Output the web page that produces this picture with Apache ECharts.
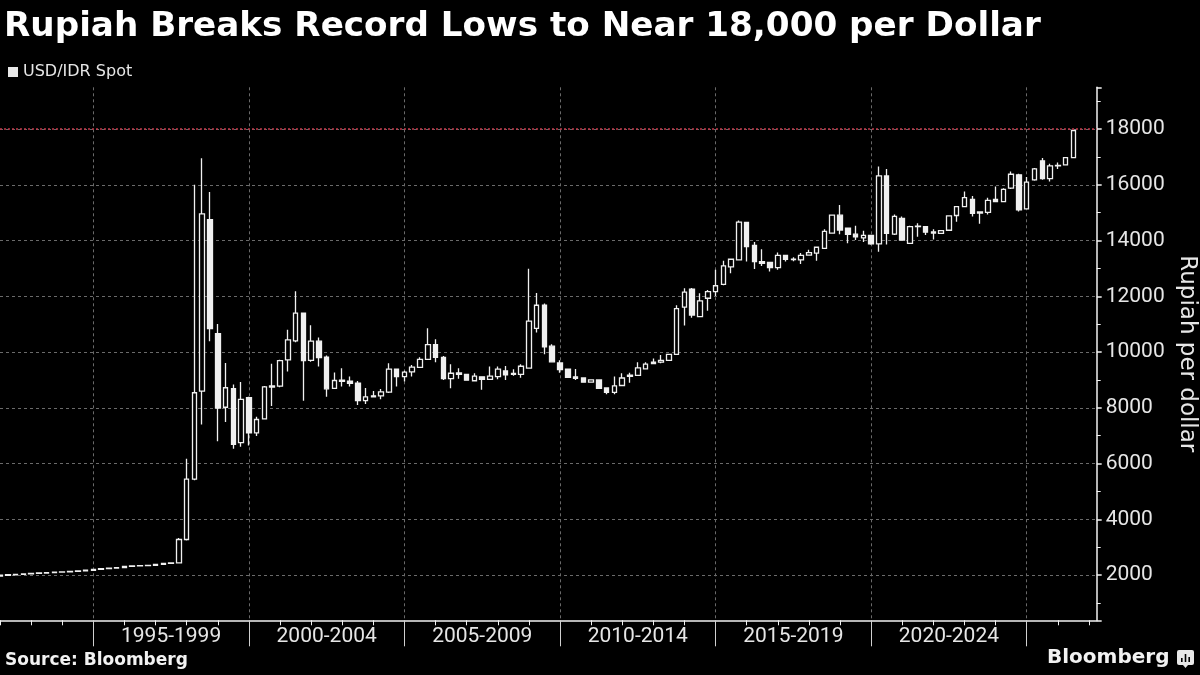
<!DOCTYPE html>
<html>
<head>
<meta charset="utf-8">
<script src="https://cdn.jsdelivr.net/npm/echarts@6/dist/echarts.min.js"></script>
<style>
  html, body { margin: 0; padding: 0; background: #000; }
  #chart { width: 1200px; height: 675px; }
</style>
</head>
<body>
<div id="chart"></div>
<script>
// ---- Data (quarterly USD/IDR spot, quarter-end positions) ----
const firstQuarter = { year: 1991, q: 4 };
const lastQuarter = { year: 2027, q: 1 };
const quarters = [];
for (let y = firstQuarter.year, q = firstQuarter.q; y < lastQuarter.year || (y === lastQuarter.year && q <= lastQuarter.q);) {
  quarters.push(y + 'Q' + q);
  q++; if (q > 4) { q = 1; y++; }
}

const openVals = [
  1965, 1992, 2010, 2025, 2040, 2062, 2072, 2089, 2102, 2110, 2134, 2152, 2170,
  2200, 2231, 2244, 2268, 2308, 2330, 2339, 2343, 2383, 2419,
  2432, 3275, 5440, 8600, 14750, 10660, 8020, 8690, 6750, 8360,
  7100, 7600, 8740, 8780, 9720, 10400, 11400, 9700, 10390, 9820, 8700, 8990,
  8960, 8880, 8260, 8430, 8430, 8560, 9390, 9120, 9290, 9450, 9740, 10270,
  9810, 9050, 9250, 9200, 8970, 9110, 9020, 9120, 9320, 9200, 9200, 9420,
  10850, 11680, 10210, 9610, 9390, 9110, 9070, 8920, 9000, 8710, 8550, 8800,
  9130, 9160, 9400, 9590, 9640, 9700, 9920, 11610, 12260, 11270, 11930, 12170,
  12430, 13060, 13310, 14650, 13830, 13240, 13220, 13030, 13470, 13320, 13310, 13480,
  13550, 13720, 14270, 14910, 14450, 14230, 14100, 14190, 13880, 16320, 14230, 14800,
  13900, 14520, 14500, 14310, 14260, 14370, 14900, 15220, 15480, 14990, 15010, 15480,
  15400, 15880, 16360, 15140, 16180, 16860, 16220, 16680, 16720, 16980
];
const closeVals = [
  1992, 2010, 2025, 2040, 2062, 2072, 2089, 2102, 2110, 2134, 2152, 2170, 2200,
  2231, 2244, 2268, 2308, 2330, 2339, 2343, 2383, 2419, 2432,
  3275, 5440, 8540, 14960, 10840, 7990, 8720, 6690, 8300, 7100,
  7580, 8750, 8790, 9690, 10440, 11400, 9690, 10390, 9800, 8680, 8980, 8950,
  8880, 8260, 8390, 8390, 8570, 9390, 9120, 9280, 9460, 9740, 10270, 9810,
  9050, 9240, 9200, 8990, 9140, 9020, 9140, 9390, 9180, 9230, 9490, 11110,
  11680, 10190, 9650, 9370, 9090, 9060, 8920, 9000, 8700, 8550, 8790, 9070,
  9170, 9430, 9570, 9640, 9700, 9920, 11560, 12150, 11330, 11840, 12170, 12380,
  13090, 13330, 14660, 13780, 13250, 13180, 13030, 13470, 13330, 13330, 13470, 13570,
  13760, 14330, 14910, 14380, 14220, 14130, 14190, 13880, 16320, 14260, 14870, 14020,
  14500, 14500, 14300, 14270, 14360, 14890, 15220, 15540, 14980, 15030, 15440, 15400,
  15840, 16380, 15100, 16100, 16570, 16220, 16680, 16700, 16980, 17950
];
const lowVals = [
  1960, 1990, 2008, 2023, 2038, 2060, 2070, 2087, 2100, 2108, 2132, 2150, 2168,
  2198, 2229, 2242, 2266, 2306, 2328, 2330, 2340, 2380, 2417,
  2430, 3240, 5400, 7400, 10390, 6800, 7490, 6530, 6600, 6650,
  6990, 7580, 8060, 8740, 9300, 10350, 8250, 9650, 9480, 8400, 8680, 8760,
  8760, 8100, 8140, 8370, 8310, 8530, 8760, 8940, 9120, 9430, 9720, 9630,
  9000, 8700, 9040, 8980, 8960, 8650, 9000, 9020, 9000, 9150, 9080, 9400,
  10700, 9920, 9640, 9260, 9070, 9000, 8900, 8900, 8690, 8490, 8490, 8790,
  8900, 9140, 9370, 9580, 9600, 9690, 9900, 10950, 11230, 11260, 11480, 12010,
  12400, 12830, 13300, 13250, 12980, 13090, 12890, 12950, 13250, 13260, 13160, 13470,
  13280, 13700, 14250, 14230, 13900, 14020, 13950, 13850, 13600, 13860, 14200, 14000,
  13880, 14140, 14200, 14040, 14240, 14350, 14680, 15200, 14860, 14600, 14940, 15380,
  15380, 15850, 15040, 15120, 16150, 16180, 16120, 16570, 16700, 16960
];
const highVals = [
  1995, 2012, 2027, 2042, 2064, 2075, 2091, 2104, 2113, 2136, 2155, 2172, 2202,
  2234, 2247, 2270, 2310, 2333, 2345, 2350, 2385, 2422, 2440,
  3330, 6170, 16000, 16955, 15740, 11010, 9610, 8840, 8930, 8400,
  7680, 8780, 9580, 9720, 10800, 12180, 11420, 10960, 10520, 9880, 9270, 9420,
  9120, 8960, 8710, 8600, 8670, 9600, 9400, 9330, 9540, 9810, 10850, 10460,
  9860, 9560, 9420, 9210, 9240, 9120, 9480, 9480, 9500, 9380, 9560, 12990,
  12120, 11740, 10280, 9710, 9400, 9390, 9080, 9010, 9010, 8720, 9120, 9240,
  9260, 9630, 9630, 9770, 9890, 9930, 11680, 12290, 12300, 12110, 12230, 12950,
  13280, 13340, 14720, 14680, 13950, 13690, 13240, 13570, 13480, 13400, 13550, 13670,
  13780, 14410, 14930, 15280, 14460, 14530, 14350, 14200, 16660, 16570, 14940, 14860,
  14530, 14620, 14520, 14410, 14380, 14900, 15240, 15760, 15600, 15040, 15540, 15940,
  15880, 16480, 16400, 16280, 16600, 16960, 16760, 16800, 17000, 17960
];

// Axis labelling
const periodLabels = ['1995-1999', '2000-2004', '2005-2009', '2010-2014', '2015-2019', '2020-2024'];
const periodCenters = ['1997Q2', '2002Q2', '2007Q2', '2012Q2', '2017Q2', '2022Q2'];
const majorTickQuarters = ['1994Q4', '1999Q4', '2004Q4', '2009Q4', '2014Q4', '2019Q4', '2024Q4'];
const referenceLevel = 18000;

// ---- Build series data ----
const candleData = openVals.map((o, i) => [o, closeVals[i], lowVals[i], highVals[i]]);

const TXT = '#e6e6e6';
const GRIDC = '#6a6a6a';

const chart = echarts.init(document.getElementById('chart'), null, { renderer: 'canvas' });

chart.setOption({
  backgroundColor: '#000',
  animation: false,
  title: {
    text: 'Rupiah Breaks Record Lows to Near 18,000 per Dollar',
    left: 4,
    top: 10,
    padding: 0,
    textStyle: { color: '#fff', fontFamily: 'DejaVu Sans', fontWeight: 'bold', fontSize: 34.2 }
  },
  legend: {
    left: 8,
    top: 64,
    padding: 0,
    itemWidth: 10,
    itemHeight: 10,
    selectedMode: false,
    textStyle: { color: TXT, fontFamily: 'DejaVu Sans', fontSize: 16 },
    data: [{ name: 'USD/IDR Spot', icon: 'rect', itemStyle: { color: '#e8e8e8', borderWidth: 0 } }]
  },
  grid: {
    left: 0,
    right: 103.3,
    top: 87.3,
    bottom: 54.7,
    containLabel: false,
    outerBoundsMode: 'none'
  },
  xAxis: [
    {
      type: 'category',
      data: quarters,
      boundaryGap: false,
      position: 'bottom',
      axisLine: { show: true, lineStyle: { color: '#f2f2f2', width: 1.5 } },
      axisTick: {
        show: true,
        length: 26,
        lineStyle: { color: '#d0d0d0', width: 1 },
        interval: (idx, val) => majorTickQuarters.indexOf(val) >= 0
      },
      axisLabel: {
        show: true,
        color: TXT,
        fontFamily: 'Roboto',
        fontSize: 21,
        margin: 6,
        interval: (idx, val) => periodCenters.indexOf(val) >= 0,
        formatter: (val) => {
          const k = periodCenters.indexOf(val);
          return k >= 0 ? periodLabels[k] : '';
        }
      },
      splitLine: {
        show: true,
        interval: (idx, val) => majorTickQuarters.indexOf(val) >= 0,
        lineStyle: { color: GRIDC, type: [3, 3], width: 1 }
      }
    },
    {
      type: 'category',
      data: quarters,
      boundaryGap: false,
      position: 'bottom',
      axisLine: { show: false },
      axisTick: {
        show: true,
        length: 5,
        lineStyle: { color: '#f2f2f2', width: 1 },
        interval: (idx, val) => val.endsWith('Q4') && majorTickQuarters.indexOf(val) < 0
      },
      axisLabel: { show: false },
      splitLine: { show: false }
    }
  ],
  yAxis: {
    type: 'value',
    position: 'right',
    min: 375,
    max: 19500,
    minInterval: 2000,
    maxInterval: 2000,
    splitNumber: 10,
    name: 'Rupiah per dollar',
    nameLocation: 'middle',
    nameRotate: -90,
    nameGap: 77,
    nameTextStyle: { color: TXT, fontFamily: 'DejaVu Sans', fontSize: 23 },
    axisLine: { show: true, lineStyle: { color: '#f2f2f2', width: 1.5 } },
    axisTick: { show: true, length: 5, lineStyle: { color: '#f2f2f2', width: 1.5 } },
    minorTick: { show: true, splitNumber: 2, length: 4, lineStyle: { color: '#f2f2f2', width: 1 } },
    axisLabel: {
      color: TXT,
      fontFamily: 'Roboto',
      fontSize: 21,
      margin: 9,
      showMinLabel: false,
      showMaxLabel: false,
      formatter: (v) => String(Math.round(v))
    },
    splitLine: {
      show: true,
      showMinLine: false,
      showMaxLine: false,
      lineStyle: { color: GRIDC, type: [3, 3], width: 1 }
    },
    minorSplitLine: { show: false }
  },
  series: [
    {
      name: 'USD/IDR Spot',
      type: 'candlestick',
      xAxisIndex: 0,
      yAxisIndex: 0,
      data: candleData,
      barWidth: 5,
      itemStyle: {
        color: '#000',
        color0: '#f0f0f0',
        borderColor: '#f0f0f0',
        borderColor0: '#f0f0f0',
        borderColorDoji: '#f0f0f0',
        borderWidth: 1.3
      },
      markLine: {
        silent: true,
        symbol: ['none', 'none'],
        label: { show: false },
        lineStyle: { color: '#c0394a', type: [2, 2], width: 1.5 },
        data: [{ yAxis: referenceLevel }]
      }
    }
  ],
  graphic: [
    {
      type: 'text',
      left: 5,
      top: 652,
      style: { text: 'Source: Bloomberg', fill: '#f2f2f2', font: 'bold 17px "DejaVu Sans"' }
    },
    {
      type: 'text',
      left: 1047,
      top: 648,
      style: { text: 'Bloomberg', fill: '#f2f2f2', font: 'bold 20px "DejaVu Sans"' }
    },
    {
      type: 'group',
      left: 1177,
      top: 650,
      children: [
        { type: 'rect', shape: { x: 0, y: 0, width: 17, height: 15, r: 2 }, style: { fill: '#e8e8e8' } },
        { type: 'polygon', shape: { points: [[6, 15], [11, 15], [8.5, 18]] }, style: { fill: '#e8e8e8' } },
        { type: 'rect', shape: { x: 4, y: 8, width: 1.6, height: 4 }, style: { fill: '#000' } },
        { type: 'rect', shape: { x: 7.7, y: 4, width: 1.6, height: 8 }, style: { fill: '#000' } },
        { type: 'rect', shape: { x: 11.4, y: 7, width: 1.6, height: 5 }, style: { fill: '#000' } }
      ]
    }
  ]
});
</script>
</body>
</html>
